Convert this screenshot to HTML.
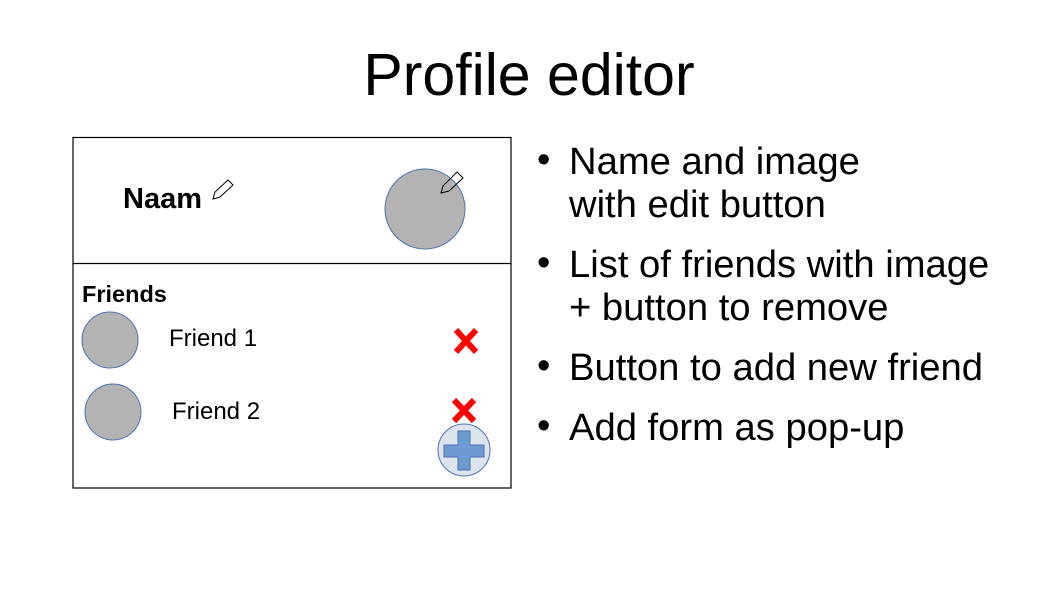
<!DOCTYPE html>
<html><head><style>body{margin:0;background:#fff}</style></head><body>
<svg width="1058" height="595" xmlns="http://www.w3.org/2000/svg" font-family="Liberation Sans, sans-serif">
<rect width="1058" height="595" fill="#fff"/>
<text x="529" y="95" font-size="59" text-anchor="middle">Profile editor</text>
<rect x="73" y="137.5" width="438" height="350.5" fill="none" stroke="#000" stroke-width="1.2"/>
<line x1="73" y1="263.5" x2="511" y2="263.5" stroke="#000" stroke-width="1.2"/>
<text x="123" y="208" font-size="29" font-weight="bold">Naam</text>
<path d="M213,199 L215,192 L228,180 L233,185 L220,197 Z" fill="#fff" stroke="#000" stroke-width="1"/>
<circle cx="425" cy="209" r="40" fill="#b3b3b3" stroke="#4a72b0" stroke-width="1"/>
<path d="M441,193 L443,186 L457,172 L463,178 L449,191 Z" fill="none" stroke="#000" stroke-width="1"/>
<text x="82" y="302" font-size="23.5" font-weight="bold">Friends</text>
<circle cx="110" cy="340" r="28" fill="#b3b3b3" stroke="#4a72b0"/>
<circle cx="113" cy="412" r="28" fill="#b3b3b3" stroke="#4a72b0"/>
<text x="169" y="346" font-size="24">Friend 1</text>
<text x="172" y="419" font-size="24">Friend 2</text>
<g stroke="#f00" stroke-width="6"><path d="M456,330 L476,352 M476,330 L456,352"/><path d="M454,400 L474,421 M474,400 L454,421"/></g>
<circle cx="464" cy="450" r="26" fill="#dde4ee" stroke="#4a72b0"/>
<path d="M458,431 H470 V445 H484 V457 H470 V470 H458 V457 H444 V445 H458 Z" fill="#6d9bd1" stroke="#4a72b0"/>
<g font-size="38.2">
<text x="537" y="172">•</text><text x="569" y="174">Name and image</text><text x="569" y="217">with edit button</text>
<text x="537" y="275">•</text><text x="569" y="277">List of friends with image</text><text x="569" y="320">+ button to remove</text>
<text x="537" y="378">•</text><text x="569" y="380">Button to add new friend</text>
<text x="537" y="438">•</text><text x="569" y="440">Add form as pop-up</text>
</g>
</svg>
</body></html>
